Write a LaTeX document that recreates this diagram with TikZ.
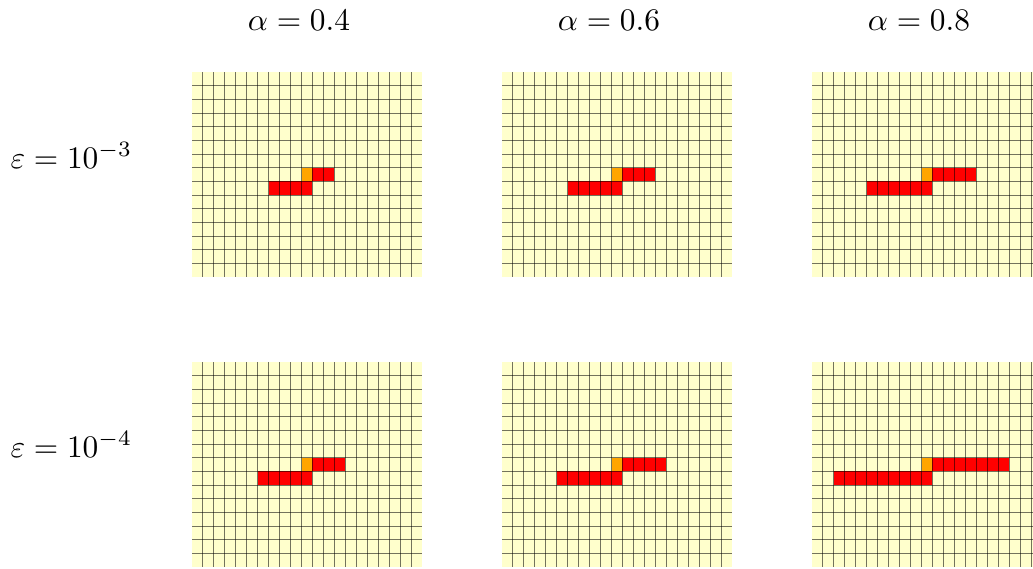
\documentclass[tikz,border=0pt]{standalone}
\usepackage{amsmath,amssymb}
\usepackage{tikz}
\definecolor{CellBG}{HTML}{FFFFCC}
\definecolor{FrontRed}{HTML}{FF0000}
\definecolor{SourceOrange}{HTML}{FFA500}

\begin{document}
\begin{tikzpicture}[
    x=0.0112cm,y=-0.0112cm,
    gridline/.style={black,opacity=0.55,line width=0.3pt},
    lbl/.style={inner sep=0pt},
  ]
  \useasboundingbox (0,0) rectangle (1033,568);
  \clip (0,0) rectangle (1033,568);
  % Column headers
  \node[lbl,anchor=base] (a4) at (299,30) {$\alpha=0.4$};
  \node[lbl,anchor=base] (a6) at (609,30) {$\alpha=0.6$};
  \node[lbl,anchor=base] (a8) at (919,30) {$\alpha=0.8$};
  % Row headers
  \node[lbl,anchor=base west] (e3) at (10,168) {$\varepsilon=10^{-3}$};
  \node[lbl,anchor=base west] (e4) at (10,457) {$\varepsilon=10^{-4}$};
  % Panels: origin x / origin y / red cells right of source / first red cell below-left
  \foreach \px/\py/\nr/\nl in {192/72/2/7,502/72/3/6,812/72/4/5,
                               192/362/3/6,502/362/4/5,812/362/7/2}{
    \begin{scope}[shift={(\px,\py)},xscale=10.952,yscale=13.667]
      \fill[CellBG] (0,0) rectangle (21,15);
      \pgfmathtruncatemacro{\ne}{10+\nr}
      \foreach \i in {11,...,\ne} \fill[FrontRed] (\i,7) rectangle ++(1,1);
      \foreach \i in {\nl,...,10} \fill[FrontRed] (\i,8) rectangle ++(1,1);
      \fill[SourceOrange] (10,7) rectangle ++(1,1);
      % grid on top
      \foreach \i in {1,...,20} \draw[gridline] (\i,0) -- (\i,15);
      \foreach \j in {1,...,14} \draw[gridline] (0,\j) -- (21,\j);
    \end{scope}
  }
\end{tikzpicture}
\end{document}
